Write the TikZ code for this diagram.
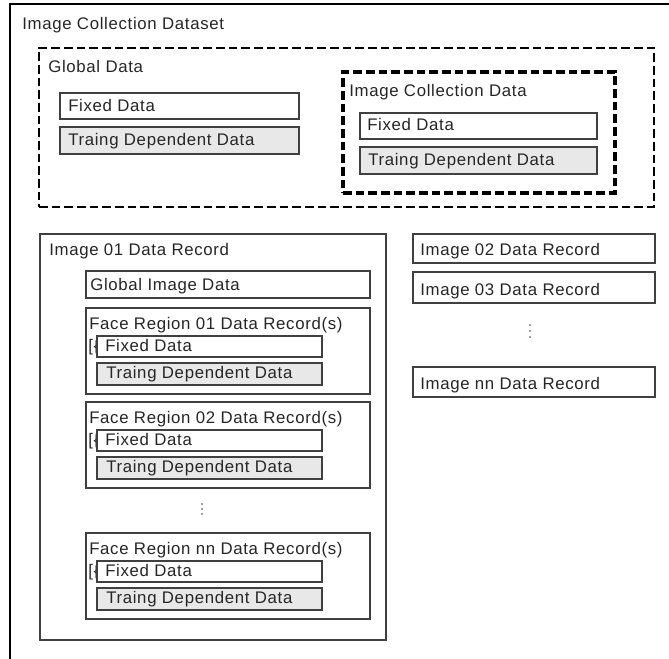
\documentclass[tikz,border=0pt]{standalone}
\usepackage{fontspec}
\setmainfont[LetterSpace=4]{Liberation Sans}
\usetikzlibrary{fit}
\begin{document}
\begin{tikzpicture}[x=0.75pt,y=-0.75pt,
  every node/.style={font=\fontsize{12.6}{14}\selectfont},
  lbl/.style={anchor=base west,inner sep=0pt,text=black!85},
  box/.style={draw=black!75,line width=1.1pt,inner sep=0pt,fill=white},
  graybox/.style={box,fill=black!9},
  dashbox/.style={draw=black,line width=2.2pt,dash pattern=on 6.5pt off 3pt,inner sep=0pt},
  dashboxb/.style={draw=black,line width=2.7pt,dash pattern=on 6.5pt off 3pt,inner sep=0pt},
  outer/.style={draw=black,line width=2pt}]
\useasboundingbox (0,0) rectangle (669,659);
% outer dataset frame (cut off at right and bottom)
\coordinate (ob) at (10,662);
\coordinate (otl) at (10,4);
\coordinate (otr) at (672,4);
\draw[outer] (ob) -- (otl) -- (otr);
\node[lbl] (title) at (22,30) {Image Collection Dataset};
% global data
\node[dashbox,fit={(39,48)(654,207)}] (global) {};
\node[lbl] (globalt) at (48,73) {Global Data};
\node[box,fit={(60,93)(299,119)}] (gfix) {};
\node[lbl] at (68,112) {Fixed Data};
\node[graybox,fit={(60,127)(299,154)}] (gtrain) {};
\node[lbl] at (68,146) {Traing Dependent Data};
% image collection data
\node[dashboxb,fit={(343,72)(615,193)}] (icd) {};
\node[lbl] (icdt) at (349,97) {Image Collection Data};
\node[box,fit={(360,113)(597,139)}] (ifix) {};
\node[lbl] at (367,131) {Fixed Data};
\node[graybox,fit={(360,147)(597,174)}] (itrain) {};
\node[lbl] at (368,166) {Traing Dependent Data};
% image 01 record
\node[box,fit={(40,234)(386,640)}] (img01) {};
\node[lbl] (img01t) at (49,256) {Image 01 Data Record};
\node[box,fit={(86,271)(370,298)}] (gimg) {};
\node[lbl] at (90,291) {Global Image Data};
% face regions
\foreach \n/\top/\name in {01/308/fr1,02/402/fr2,nn/533/frn}{
  \node[box,fit={(86,\top)(370,\top+86)}] (\name) {};
  \node[lbl] (\name t) at (89,\top+22) {Face Region \n\ Data Record(s)};
  \node[lbl] (\name b) at (88,\top+44) {[\{};
  \node[box,fit={(97,\top+28)(322,\top+49)}] (\name fix) {};
  \node[lbl] at (105,\top+44) {Fixed Data};
  \node[graybox,fit={(97,\top+55)(322,\top+77)}] (\name train) {};
  \node[lbl] at (106,\top+71) {Traing Dependent Data};
}
\foreach \yy in {504,509,514} \fill[black!75] (202,\yy) circle (0.8);
% right records
\node[box,fit={(413,234)(655,263)}] (img02) {};
\node[lbl] at (420,256) {Image 02 Data Record};
\node[box,fit={(413,272)(655,303)}] (img03) {};
\node[lbl] at (420,296) {Image 03 Data Record};
\foreach \yy in {325,331,337} \fill[black!75] (530,\yy) circle (0.8);
\node[box,fit={(413,367)(655,397)}] (imgnn) {};
\node[lbl] at (420,390) {Image nn Data Record};
\end{tikzpicture}
\end{document}
